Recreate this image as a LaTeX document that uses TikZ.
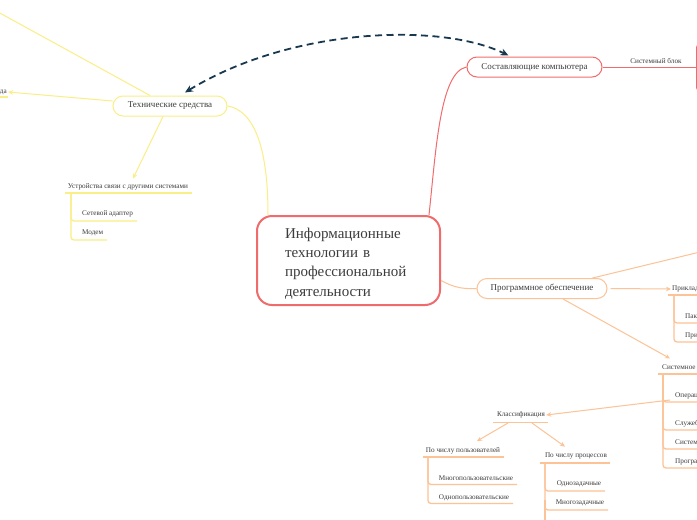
\documentclass[tikz,border=0pt]{standalone}
\usepackage{fontspec}
\setmainfont{Liberation Serif}
\usetikzlibrary{arrows.meta,calc}
\definecolor{cred}{RGB}{240,108,108}
\definecolor{cyel}{RGB}{250,238,135}
\definecolor{corg}{RGB}{252,195,150}
\definecolor{cblue}{RGB}{24,56,80}
\definecolor{ctxt}{RGB}{60,60,60}
\begin{document}
\begin{tikzpicture}[x=1pt,y=-1pt,
  topic/.style={draw, fill=white, rounded corners=10pt, minimum height=20pt, inner sep=0pt,
    font=\fontsize{9}{10}\selectfont, text=ctxt, line width=1pt},
  sub/.style={inner sep=1pt, font=\fontsize{7.2}{8}\selectfont, text=ctxt},
  conn/.style={line width=1pt},
  uline/.style={line width=1.3pt},
  tree/.style={line width=1.3pt, rounded corners=3pt},
  tip/.style={-{Stealth[length=5pt,width=4.5pt]}},
  dashconn/.style={cblue, line width=1.8pt, dash pattern=on 7pt off 4.5pt,
    {Stealth[length=8pt,width=7pt]}-{Stealth[length=8pt,width=7pt]}},
]
\clip (0,0) rectangle (697,520);
\fill[white] (0,0) rectangle (697,520);

% central node
\node[draw=cred, line width=2pt, rounded corners=15pt, fill=white,
  minimum width=183pt, minimum height=89pt] (central) at (348.5,260.5) {};
\node[text width=127pt, align=left, inner sep=0pt, font=\fontsize{15}{19.3}\selectfont, text=ctxt]
  (ctext) at ($(central.center)+(0,3)$) {Информационные\\технологии в\\профессиональной\\деятельности};

% main topics
\node[topic, draw=cyel, minimum width=114pt] (tech) at (170,106) {Технические средства};
\node[topic, draw=cred, minimum width=135pt] (comp) at (534.5,67) {Составляющие компьютера};
\node[topic, draw=corg, minimum width=130pt] (prog) at (542,288.5) {Программное обеспечение};

% central connectors
\draw[cyel, conn] (tech.east) .. controls (262,112) and (268,170) .. ($(central.north west)+(12,0)$);
\draw[cred, conn] ($(central.north east)+(-12,0)$) .. controls (436,150) and (440,72) .. (comp.west);
\draw[corg, conn] ($(central.east)+(0,20)$) .. controls (455,288) and (463,289) .. (prog.west);

% dashed relation
\draw[dashconn] ($(tech.north)+(15,-3)$) .. controls (290,28) and (440,22) .. ($(comp.north)+(-26,-1)$);

% ---- technical means (yellow)
\coordinate (tl) at (-2,12);
\draw[cyel, conn] ($(tech.north)+(-20,0)$) -- (tl);
\node[sub, anchor=east] (vvod) at (8,92) {Устройства ввода};
\draw[cyel, uline] (-70,97) -- (8,97);
\draw[cyel, conn, tip] ($(tech.west)+(0,-5)$) -- (vvod.east);

\node[sub] (svyaz) at (128,187) {Устройства связи с другими системами};
\draw[cyel, conn, tip] ($(tech.south)+(-7,0)$) -- ($(svyaz.north)+(5,-4)$);
\draw[cyel, uline] (65,193) -- (192,193);
\node[sub, anchor=west] (adapt) at (81,214) {Сетевой адаптер};
\node[sub, anchor=west] (modem) at (81,233) {Модем};
\draw[cyel, tree] (71,193) |- (137,221);
\draw[cyel, tree] (71,193) |- (107,240);

% ---- computer components (red)
\node[draw=cred, line width=1pt, rounded corners=5pt, minimum width=80pt, minimum height=50pt, anchor=north west] (blockbox) at (696,42) {};
\draw[cred, conn] (comp.east) -- (blockbox.west |- comp.east);
\node[sub] (sysblock) at (656,61) {Системный блок};

% ---- software (orange)
\coordinate (ur) at (700,252);
\draw[corg, conn] ($(prog.north east)+(-15,0)$) -- (ur);

\node[sub, anchor=west] (prikl) at (671,289) {Прикладное программное обеспечение};
\draw[corg, conn, tip] ($(prog.east)+(3,0)$) -- (prikl.west);
\draw[corg, uline] (668,295) -- (720,295);
\node[sub, anchor=west] (paket) at (684,317) {Пакеты прикладных программ};
\node[sub, anchor=west] (prikp) at (684,336) {Прикладные программы};
\draw[corg, tree] (674,295) |- (720,323);
\draw[corg, tree] (674,295) |- (720,342);

\node[sub, anchor=west] (sist) at (661,368) {Системное программное обеспечение};
\draw[corg, conn, tip] ($(prog.south)+(21,0)$) -- ($(sist.north west)+(9,-5)$);
\draw[corg, uline] (658,374) -- (720,374);
\node[sub, anchor=west] (oper) at (674,396) {Операционные системы};
\node[sub, anchor=west] (sluzh) at (674,424) {Служебные программы};
\node[sub, anchor=west] (sprog) at (674,443) {Системы программирования};
\node[sub, anchor=west] (progto) at (674,462) {Программы технического обслуживания};
\draw[corg, tree] (663,374) |- (720,402);
\draw[corg, tree] (663,374) |- (720,430);
\draw[corg, tree] (663,374) |- (720,449);
\draw[corg, tree] (663,374) |- (720,468);

% classification
\node[sub] (klass) at (521,415) {Классификация};
\draw[corg, uline] (493,422.5) -- (548,422.5);
\draw[corg, conn, tip] ($(oper.west)+(-4,4)$) -- (klass.east);

\node[sub] (users) at (463,450.5) {По числу пользователей};
\draw[corg, uline] (423,457) -- (504,457);
\draw[corg, conn, tip] (508,423) -- ($(users.north)+(14,-5)$);
\node[sub] (multiu) at (476,478.5) {Многопользовательские};
\node[sub] (singleu) at (474,497.5) {Однопользовательские};
\draw[corg, tree] (428,457) |- (517,484.5);
\draw[corg, tree] (428,457) |- (513,503.5);

\node[sub] (procs) at (576,456) {По числу процессов};
\draw[corg, uline] (540,463) -- (610,463);
\draw[corg, conn, tip] (532,423) -- ($(procs.north)+(-11,-5)$);
\node[sub] (singlet) at (579,484) {Однозадачные};
\node[sub] (multit) at (580,503) {Многозадачные};
\draw[corg, tree] (545,463) |- (605,491);
\draw[corg, tree] (545,463) |- (608,510);
\draw[corg, uline] (545,500) -- (545,525);
\end{tikzpicture}
\end{document}
